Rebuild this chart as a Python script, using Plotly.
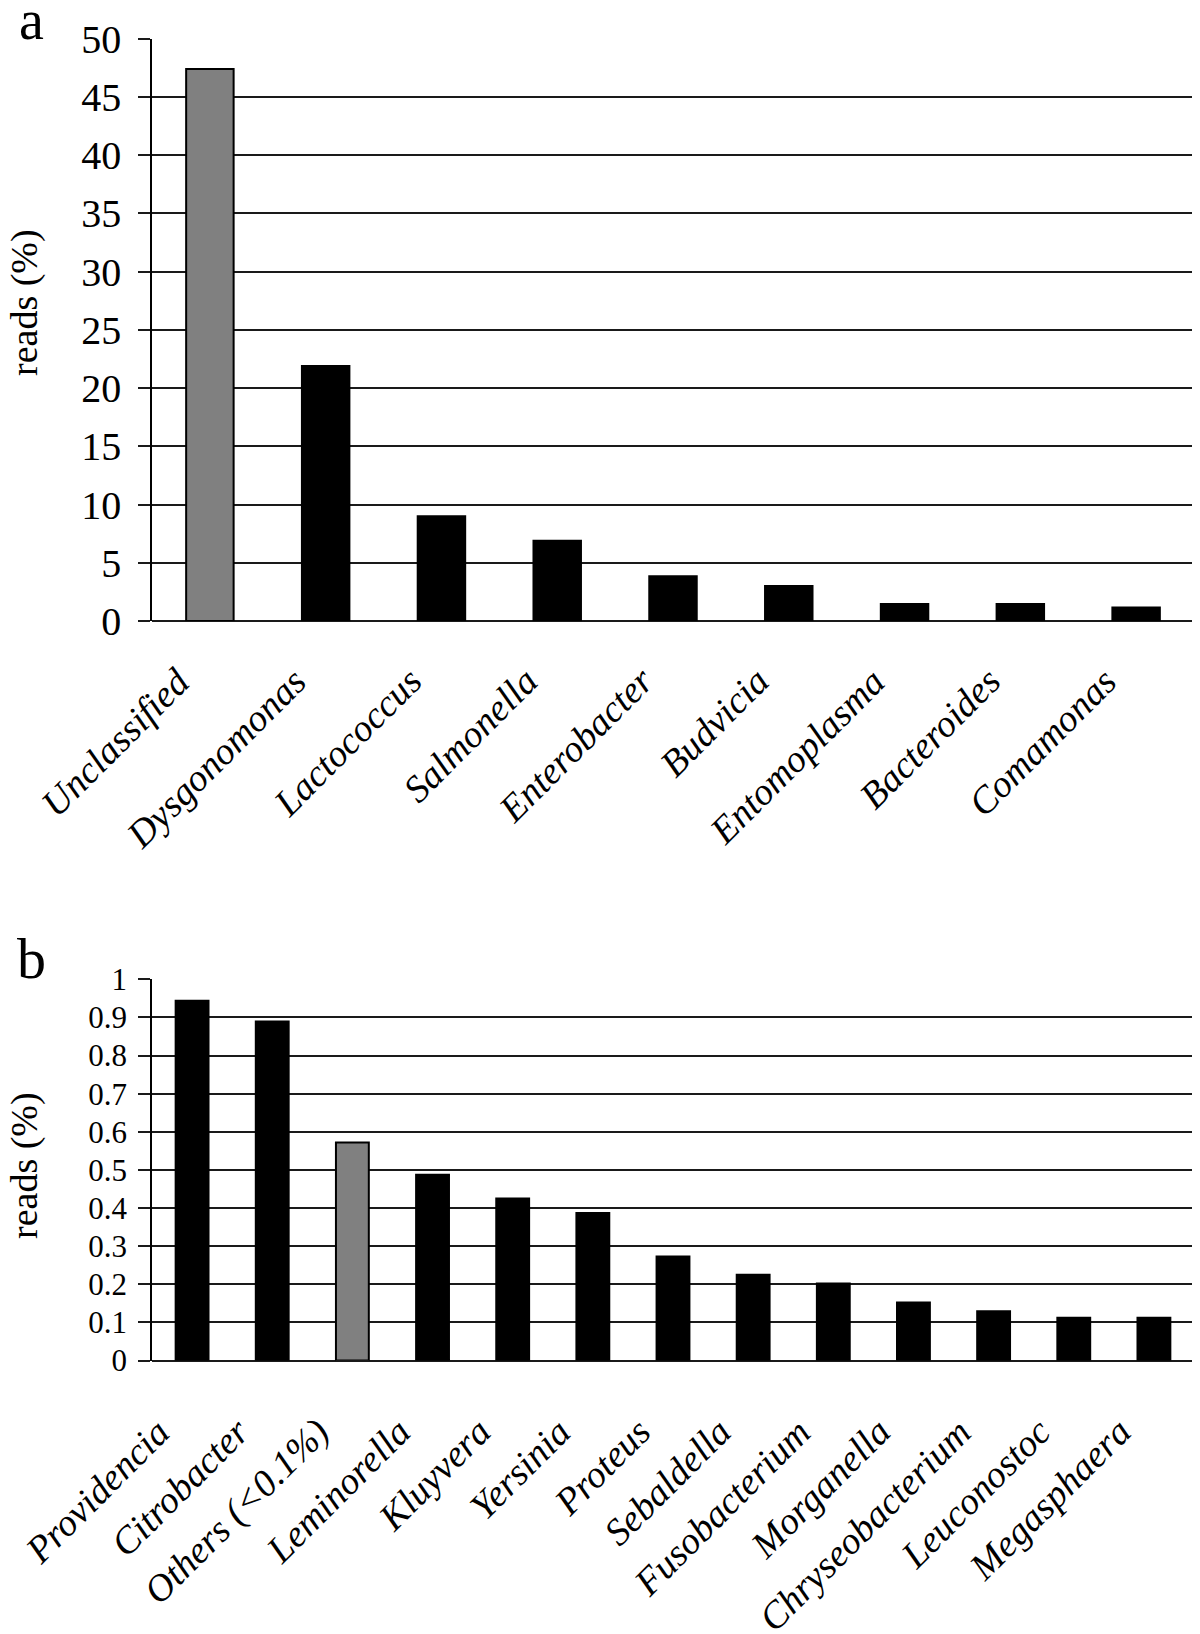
import plotly.graph_objects as go

# page is rendered with an 8px body margin; figure sized to fill the rest
OFF = 8
W, H = 1200 - OFF, 1634 - OFF

cats_a = ["Unclassified", "Dysgonomonas", "Lactococcus", "Salmonella", "Enterobacter",
          "Budvicia", "Entomoplasma", "Bacteroides", "Comamonas"]
vals_a = [47.4, 21.9, 9.0, 6.9, 3.85, 3.0, 1.45, 1.45, 1.15]
colors_a = ["#808080"] + ["#000000"] * 8
tick_a = [0, 5, 10, 15, 20, 25, 30, 35, 40, 45, 50]

cats_b = ["Providencia", "Citrobacter", "Others (<0.1%)", "Leminorella", "Kluyvera",
          "Yersinia", "Proteus", "Sebaldella", "Fusobacterium", "Morganella",
          "Chryseobacterium", "Leuconostoc", "Megasphaera"]
vals_b = [0.944, 0.889, 0.572, 0.487, 0.425, 0.387, 0.273, 0.225, 0.202, 0.152,
          0.129, 0.112, 0.112]
colors_b = ["#000000", "#000000", "#808080"] + ["#000000"] * 10
tick_b = [0, 0.1, 0.2, 0.3, 0.4, 0.5, 0.6, 0.7, 0.8, 0.9, 1]

FONT = "Liberation Serif"

def px_(p):  # page x -> paper fraction
    return (p - OFF) / W

def py_(p):  # page y -> paper fraction
    return (H - (p - OFF)) / H

fig = go.Figure()
fig.add_trace(go.Bar(x=cats_a, y=vals_a, marker=dict(color=colors_a, line=dict(color="#000000", width=2)),
                     xaxis="x", yaxis="y", showlegend=False))
fig.add_trace(go.Bar(x=cats_b, y=vals_b, marker=dict(color=colors_b, line=dict(color="#000000", width=2)),
                     xaxis="x2", yaxis="y2", showlegend=False))

xdom = [px_(152), px_(1194)]
common_x = dict(type="category", showline=False, ticks="", showgrid=False, zeroline=False,
                automargin=False, showticklabels=False)
common_y = dict(showgrid=True, gridcolor="#1a1a1a", gridwidth=1.5, zeroline=True, zerolinecolor="#1a1a1a",
                zerolinewidth=1.5, showline=True, linecolor="#000000", linewidth=1.5, automargin=False,
                ticks="outside", ticklen=12, tickcolor="#1a1a1a", tickwidth=1.5)

LBL = dict(family=FONT, size=38, color="#000000", style="italic")
annotations = []
for c in cats_a:
    annotations.append(dict(text=c, x=c, y=0, xref="x", yref="y", showarrow=False, textangle=-45,
                            xanchor="right", yanchor="top", xshift=-9, yshift=-36, font=LBL))
for c in cats_b:
    annotations.append(dict(text=c, x=c, y=0, xref="x2", yref="y2", showarrow=False, textangle=-45,
                            xanchor="right", yanchor="top", xshift=-12, yshift=-47, font=LBL))

annotations += [
    dict(text="reads (%)", x=px_(24), y=py_(303), xref="paper", yref="paper", showarrow=False,
         textangle=-90, font=dict(family=FONT, size=38, color="#000000"), xanchor="center", yanchor="middle"),
    dict(text="reads (%)", x=px_(24), y=py_(1166), xref="paper", yref="paper", showarrow=False,
         textangle=-90, font=dict(family=FONT, size=38, color="#000000"), xanchor="center", yanchor="middle"),
    dict(text="a", x=px_(31), y=py_(20), xref="paper", yref="paper", showarrow=False,
         font=dict(family=FONT, size=56, color="#000000"), xanchor="center", yanchor="middle"),
    dict(text="b", x=px_(31), y=py_(959), xref="paper", yref="paper", showarrow=False,
         font=dict(family=FONT, size=58, color="#000000"), xanchor="center", yanchor="middle"),
]

fig.update_layout(
    width=W, height=H,
    margin=dict(l=0, r=0, t=0, b=0, autoexpand=False),
    paper_bgcolor="white", plot_bgcolor="white",
    bargap=0.59,
    font=dict(family=FONT, color="#000000"),
    xaxis=dict(domain=xdom, anchor="y", range=[-0.5, len(cats_a) - 0.5], **common_x),
    yaxis=dict(domain=[py_(621), py_(38.7)], anchor="x", range=[0, 50], tickvals=tick_a,
               tickfont=dict(family=FONT, size=40, color="#000000"), ticklabelstandoff=9, **common_y),
    xaxis2=dict(domain=xdom, anchor="y2", range=[-0.5, len(cats_b) - 0.5], **common_x),
    yaxis2=dict(domain=[py_(1360.5), py_(979.3)], anchor="x2", range=[0, 1], tickvals=tick_b,
                tickfont=dict(family=FONT, size=31, color="#000000"), ticklabelstandoff=5, **common_y),
    annotations=annotations,
)

fig.write_html("out.html")
